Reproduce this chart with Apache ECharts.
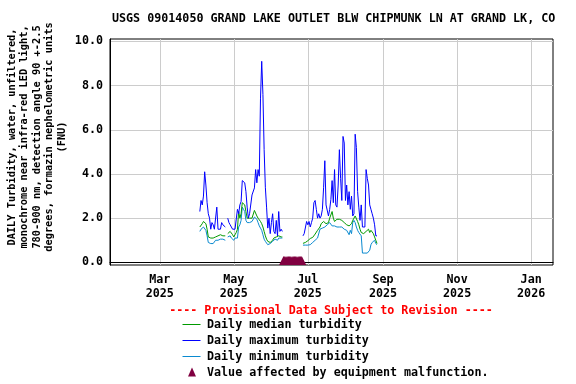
<!DOCTYPE html>
<html><head><meta charset="utf-8">
<script src="https://cdn.jsdelivr.net/npm/echarts@6/dist/echarts.min.js"></script>
<style>html,body{margin:0;padding:0;background:#fff}#c{width:576px;height:384px}</style>
</head><body><div id="c"></div>
<script>
// ---- data ----
const titleText = 'USGS 09014050 GRAND LAKE OUTLET BLW CHIPMUNK LN AT GRAND LK, CO';
const yTitleLines = [
  'DAILY Turbidity, water, unfiltered,',
  'monochrome near infra-red LED light,',
  '780-900 nm, detection angle 90 +-2.5',
  'degrees, formazin nephelometric units',
  '(FNU)'
];
const monthNames = ['Jan','Feb','Mar','Apr','May','Jun','Jul','Aug','Sep','Oct','Nov','Dec'];
const xTickDates = ['2025-03-01','2025-05-01','2025-07-01','2025-09-01','2025-11-01','2026-01-01'];
const xRange = ['2025-01-19','2026-01-19'];
const yTicks = [0, 2, 4, 6, 8, 10];

const seg1Start = '2025-04-03';
const seg1Max = [2.3,2.8,2.6,3.0,4.1,3.5,2.7,2.2,2.0,1.5,
  1.8,1.7,1.5,1.5,2.5,1.5,1.5,1.5,1.8,1.7,
  1.7,1.6,null,2.0,1.8,1.7,1.6,1.5,1.5,1.5,
  1.5,2.4,2.2,2.6,2.75,3.7,3.75,3.6,3.2,2.5,
  2.0,2.2,2.2,3.05,3.0,3.37,4.2,3.6,4.2,3.9,
  7.4,9.1,7.6,5.1,3.4,2.5,1.55,2.0,1.3,1.8,
  2.2,1.4,1.3,1.9,1.2,2.3,1.4,1.5,1.4];
const seg1Median = [1.6,1.65,1.75,1.85,1.85,1.75,1.5,1.15,1.1,1.1,
  1.1,1.1,1.1,1.15,1.15,1.2,1.2,1.25,1.25,1.2,
  1.2,1.2,null,1.3,1.35,1.4,1.35,1.25,1.15,1.25,
  1.35,1.5,2.3,2.0,2.2,2.7,2.75,2.6,2.3,2.0,
  2.0,2.0,2.0,2.0,2.05,2.35,2.4,2.1,2.0,1.95,
  1.85,1.75,1.6,1.4,1.2,1.05,0.95,0.9,0.9,0.95,
  1.0,1.1,1.15,1.15,1.1,1.2,1.15,1.15,1.15];
const seg1Min = [1.4,1.5,1.55,1.6,1.6,1.45,1.2,0.9,0.85,0.85,
  0.85,0.85,0.85,1.0,1.0,1.0,1.05,1.05,1.1,1.05,
  1.0,1.0,null,1.15,1.2,1.2,1.1,1.05,1.0,1.1,
  1.15,1.1,1.6,1.7,1.9,2.5,2.4,2.3,1.9,1.8,
  1.8,1.8,1.8,1.85,1.9,2.05,2.1,1.95,1.8,1.65,
  1.55,1.45,1.25,1.05,0.95,0.87,0.8,0.8,0.85,0.9,
  0.95,1.0,1.05,1.05,1.0,1.1,1.05,1.1,1.1];

const seg2Start = '2025-06-27';
const seg2Max = [1.2,1.3,1.35,1.85,1.7,1.85,1.6,1.8,2.0,2.7,
  2.8,2.4,2.0,2.2,2.0,2.1,2.4,3.4,4.6,2.6,
  2.6,2.1,2.4,2.85,3.7,2.7,4.2,2.6,2.5,3.5,
  5.1,3.8,2.8,5.7,5.4,2.8,3.5,2.6,3.2,2.4,
  3.0,2.1,2.2,5.8,5.2,3.2,2.5,1.9,2.6,1.6,
  1.6,1.6,4.2,3.8,3.5,2.6,2.4,2.2,2.0,1.7,
  1.2,1.2];
const seg2Median = [0.86,0.88,0.9,0.92,0.98,1.0,1.08,1.1,1.13,1.2,
  1.28,1.35,1.45,1.52,1.6,1.75,1.8,1.85,1.8,1.75,
  1.7,1.8,2.0,2.05,2.3,2.0,1.85,1.9,1.95,1.95,
  1.95,1.95,1.9,1.85,1.8,1.75,1.7,1.75,1.65,1.6,
  1.75,1.9,2.0,2.1,2.05,1.85,1.7,1.5,1.35,1.3,
  1.3,1.35,1.4,1.45,1.5,1.35,1.45,1.5,1.3,1.15,
  1.0,0.85];
const seg2Min = [0.78,0.78,0.78,0.78,0.78,0.8,0.8,0.85,0.9,0.95,
  1.0,1.05,1.1,1.15,1.5,1.55,1.55,1.6,1.6,1.65,
  1.7,1.75,1.8,1.75,1.65,1.6,1.65,1.6,1.6,1.6,
  1.6,1.55,1.6,1.55,1.5,1.5,1.45,1.4,1.25,1.45,
  1.3,1.8,1.9,1.8,1.6,1.45,1.35,1.3,1.2,0.42,
  0.42,0.42,0.42,0.42,0.42,0.55,0.8,0.9,0.95,1.0,
  0.85,0.8];

const malfunctionStart = '2025-06-11';
const malfunctionDays = 16;
const malfunctionValue = 0;

// ---- helpers ----
function parseDay(s){ const p = s.split('-').map(Number); return new Date(p[0], p[1]-1, p[2]).getTime(); }
function days(start, n){ const p = start.split('-').map(Number); const out=[]; for(let i=0;i<n;i++) out.push(new Date(p[0],p[1]-1,p[2]+i).getTime()); return out; }
function pairs(start, vals){ const d = days(start, vals.length); return d.map((t,i)=>[t, vals[i]]); }
function joinSegs(a, b, bStart){
  const gap = [[parseDay(bStart) - 86400000 * 8, null]];
  return pairs(seg1Start, a).concat(gap, pairs(bStart, b));
}

const FONT = "'DejaVu Sans Mono', monospace";
const C_MED = '#009a00', C_MAX = '#0000ff', C_MIN = '#0a8ad0', C_MAL = '#800040';

const chart = echarts.init(document.getElementById('c'), null, {renderer:'canvas'});
const tickVals = xTickDates.map(parseDay);

chart.setOption({
  animation: false,
  backgroundColor: '#fff',
  title: {
    text: titleText, left: 112, top: 13, padding: 0,
    textStyle: {fontFamily: FONT, fontSize: 11.7, fontWeight: 'bold', color: '#000'}
  },
  grid: {left: 110, top: 39, width: 443, height: 226, show: true, borderColor: '#000', borderWidth: 1, backgroundColor: 'transparent'},
  xAxis: {
    type: 'value', min: parseDay(xRange[0]), max: parseDay(xRange[1]),
    axisLine: {show: true, lineStyle: {color: '#000', width: 1}},
    axisTick: {show: false, customValues: tickVals},
    splitLine: {show: true, lineStyle: {color: '#cccccc', width: 1}},
    axisLabel: {
      customValues: tickVals, margin: 8, lineHeight: 14,
      fontFamily: FONT, fontSize: 11.7, fontWeight: 'bold', color: '#000',
      formatter: function(v){ const d = new Date(v); return monthNames[d.getMonth()] + '\n' + d.getFullYear(); }
    }
  },
  yAxis: {
    type: 'value', min: -0.12, max: 10.11,
    axisLine: {show: true, lineStyle: {color: '#000', width: 1}},
    axisTick: {show: false, customValues: yTicks},
    splitLine: {show: true, lineStyle: {color: '#cccccc', width: 1}},
    axisLabel: {
      customValues: yTicks, margin: 7,
      fontFamily: FONT, fontSize: 11.7, fontWeight: 'bold', color: '#000',
      formatter: function(v){ return v.toFixed(1); }
    }
  },
  series: [
    {name: 'Daily median turbidity', type: 'line', data: joinSegs(seg1Median, seg2Median, seg2Start), showSymbol: false, symbol: 'none', connectNulls: false, lineStyle: {color: C_MED, width: 1}, itemStyle:{color:C_MED}, z: 3},
    {name: 'Daily minimum turbidity', type: 'line', data: joinSegs(seg1Min, seg2Min, seg2Start), showSymbol: false, symbol: 'none', connectNulls: false, lineStyle: {color: C_MIN, width: 1}, itemStyle:{color:C_MIN}, z: 2},
    {name: 'Daily maximum turbidity', type: 'line', data: joinSegs(seg1Max, seg2Max, seg2Start), showSymbol: false, symbol: 'none', connectNulls: false, lineStyle: {color: C_MAX, width: 1}, itemStyle:{color:C_MAX}, z: 4},
    {name: 'Value affected by equipment malfunction.', type: 'scatter',
     data: days(malfunctionStart, malfunctionDays).map(t => [t, malfunctionValue]),
     symbol: 'triangle', symbolSize: [9, 9], symbolOffset: [0, -1.8],
     itemStyle: {color: C_MAL, opacity: 1}, z: 5}
  ],
  graphic: [
    {type: 'text', x: 37, y: 137, rotation: Math.PI/2,
     style: {text: yTitleLines.join('\n'), fontFamily: FONT, fontSize: 10.3, fontWeight: 'bold', fill: '#000', align: 'center', verticalAlign: 'middle', lineHeight: 12.5}},
    {type: 'text', x: 331, y: 311,
     style: {text: '---- Provisional Data Subject to Revision ----', fontFamily: FONT, fontSize: 11.7, fontWeight: 'bold', fill: '#ff0000', align: 'center', verticalAlign: 'middle'}},
    {type: 'line', shape: {x1: 182.5, y1: 324.5, x2: 200.5, y2: 324.5}, style: {stroke: C_MED, lineWidth: 1}},
    {type: 'line', shape: {x1: 182.5, y1: 340.5, x2: 200.5, y2: 340.5}, style: {stroke: C_MAX, lineWidth: 1}},
    {type: 'line', shape: {x1: 182.5, y1: 356.5, x2: 200.5, y2: 356.5}, style: {stroke: C_MIN, lineWidth: 1}},
    {type: 'polygon', shape: {points: [[192, 367.5], [188, 376.5], [196, 376.5]]}, style: {fill: C_MAL}},
    {type: 'text', x: 207, y: 325, style: {text: 'Daily median turbidity', fontFamily: FONT, fontSize: 11.7, fontWeight: 'bold', fill: '#000', verticalAlign: 'middle'}},
    {type: 'text', x: 207, y: 341, style: {text: 'Daily maximum turbidity', fontFamily: FONT, fontSize: 11.7, fontWeight: 'bold', fill: '#000', verticalAlign: 'middle'}},
    {type: 'text', x: 207, y: 357, style: {text: 'Daily minimum turbidity', fontFamily: FONT, fontSize: 11.7, fontWeight: 'bold', fill: '#000', verticalAlign: 'middle'}},
    {type: 'text', x: 207, y: 372.5, style: {text: 'Value affected by equipment malfunction.', fontFamily: FONT, fontSize: 11.7, fontWeight: 'bold', fill: '#000', verticalAlign: 'middle'}}
  ]
});
</script>
</body></html>
